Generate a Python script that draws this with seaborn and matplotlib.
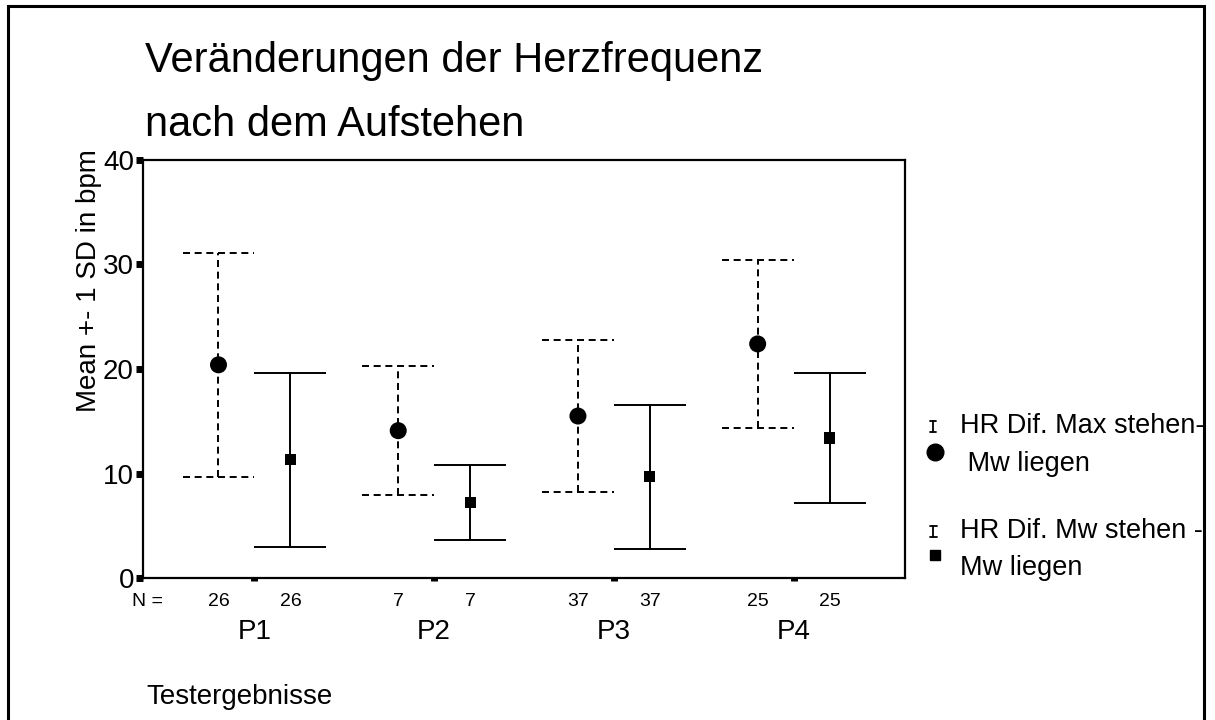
import numpy as np
import pandas as pd
import matplotlib
matplotlib.use("Agg")
from matplotlib import pyplot as plt
from matplotlib.lines import Line2D
import seaborn as sns

groups = ['P1', 'P2', 'P3', 'P4']
n_counts = [26, 7, 37, 25]
# HR Dif. Max stehen - Mw liegen
max_mean = [20.4, 14.1, 15.5, 22.4]
max_sd = [10.7, 6.2, 7.3, 8.0]
# HR Dif. Mw stehen - Mw liegen
mw_mean = [11.3, 7.25, 9.7, 13.4]
mw_sd = [8.35, 3.6, 6.9, 6.2]

sns.set_style('white')
plt.rcParams['font.family'] = ['Liberation Sans', 'DejaVu Sans']
plt.rcParams['text.color'] = 'black'
plt.rcParams['xtick.color'] = 'black'
plt.rcParams['ytick.color'] = 'black'
plt.rcParams['axes.labelcolor'] = 'black'

pos = np.arange(1, len(groups) + 1)
off = 0.2
df = pd.DataFrame({
    'pos': np.concatenate([pos - off, pos + off]),
    'mean': max_mean + mw_mean,
    'sd': max_sd + mw_sd,
    'serie': ['max'] * len(groups) + ['mw'] * len(groups),
})
df['lo'] = df['mean'] - df['sd']
df['hi'] = df['mean'] + df['sd']

fig = plt.figure(figsize=(12.15, 7.2), dpi=100)
ax = fig.add_axes([0.1177, 0.1972, 0.6272, 0.5806])

dash = (0, (3.6, 2.4))
for serie, ls in [('max', dash), ('mw', 'solid')]:
    d = df[df.serie == serie]
    ax.vlines(d['pos'], d['lo'], d['hi'], colors='black', linewidth=1.4, linestyles=[ls])
    ax.hlines(d['lo'], d['pos'] - off, d['pos'] + off, colors='black', linewidth=1.4, linestyles=[ls])
    ax.hlines(d['hi'], d['pos'] - off, d['pos'] + off, colors='black', linewidth=1.4, linestyles=[ls])

sns.scatterplot(data=df[df.serie == 'max'], x='pos', y='mean', marker='o', s=150,
                color='black', edgecolor='none', legend=False, ax=ax, zorder=3)
sns.scatterplot(data=df[df.serie == 'mw'], x='pos', y='mean', marker='s', s=64,
                color='black', edgecolor='none', legend=False, ax=ax, zorder=3)

ax.set_xlim(0.38, 4.62)
ax.set_ylim(0, 40)
ax.set_yticks([0, 10, 20, 30, 40])
ax.set_xticks(pos)
ax.set_xticklabels([''] * len(groups))
ax.set_xlabel('')
ax.set_ylabel('')
ax.tick_params(axis='y', direction='out', length=5, width=5, color='black',
               labelsize=20, pad=1.5, left=True, labelcolor='black')
ax.tick_params(axis='x', direction='out', length=2, width=5, color='black', bottom=True)
for sp in ax.spines.values():
    sp.set_visible(True)
    sp.set_color('black')
    sp.set_linewidth(1.6)

# N counts and group labels under the axis
tr = ax.get_xaxis_transform()
for i, g in enumerate(groups):
    ax.text(pos[i] - off, -0.068, str(n_counts[i]), fontsize=14, ha='center', va='baseline', transform=tr)
    ax.text(pos[i] + off, -0.068, str(n_counts[i]), fontsize=14, ha='center', va='baseline', transform=tr)
    ax.text(pos[i], -0.146, g, fontsize=20, ha='center', va='baseline', transform=tr)


def fx(px):
    return px / 1215


def fy(py):
    return 1 - py / 720


fig.text(fx(147), fy(606), 'N =', fontsize=14, ha='center', va='baseline')

fig.text(fx(145), fy(72), 'Veränderungen der Herzfrequenz', fontsize=30, va='baseline')
fig.text(fx(145), fy(136), 'nach dem Aufstehen', fontsize=30, va='baseline')
fig.text(fx(89), fy(281), 'Mean +- 1 SD in bpm', fontsize=20, rotation=90,
         ha='center', va='center')
fig.text(fx(146), fy(704), 'Testergebnisse', fontsize=20, va='baseline')

# legend block
fig.text(fx(960), fy(433), 'HR Dif. Max stehen-', fontsize=19.5, va='baseline')
fig.text(fx(960), fy(471), ' Mw liegen', fontsize=19.5, va='baseline')
fig.text(fx(960), fy(538), 'HR Dif. Mw stehen -', fontsize=19.5, va='baseline')
fig.text(fx(960), fy(575), 'Mw liegen', fontsize=19.5, va='baseline')


def ibar(x, y0, y1, w):
    for xs, ys in [([x, x], [y0, y1]), ([x - w, x + w], [y0, y0]), ([x - w, x + w], [y1, y1])]:
        fig.add_artist(Line2D([fx(v) for v in xs], [fy(v) for v in ys], color='black', lw=1.3))


ibar(933, 421, 432, 3)
ibar(933, 526, 537, 3.5)
fig.add_artist(Line2D([fx(935)], [fy(452)], marker='o', markersize=12, color='black', lw=0))
fig.add_artist(Line2D([fx(935)], [fy(555)], marker='s', markersize=7, color='black', lw=0))

# outer frame (open at the bottom)
fig.add_artist(Line2D([fx(8), fx(8), fx(1204), fx(1204)], [0, fy(6), fy(6), 0],
                      color='black', lw=2.2, solid_joinstyle='miter'))

fig.savefig('out.png', dpi=100)
